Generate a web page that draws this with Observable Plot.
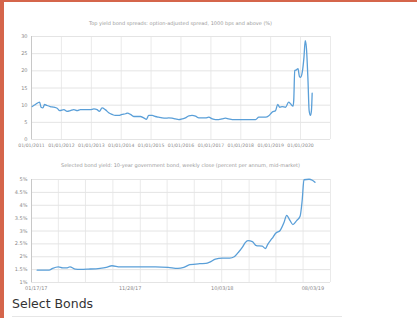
<!DOCTYPE html>
<html><head><meta charset="utf-8">
<script src="https://cdn.jsdelivr.net/npm/d3@7"></script>
<script src="https://cdn.jsdelivr.net/npm/@observablehq/plot@0.6"></script>
<style>
body{margin:0;background:#fff;width:417px;height:318px;overflow:hidden;position:relative;font-family:"DejaVu Sans",sans-serif}
.bl{position:absolute;left:0;top:0;width:4px;height:318px;background:#d5654b}
.bt{position:absolute;left:0;top:0;width:417px;height:2px;background:#d5654b}
.title{position:absolute;left:31px;width:299px;text-align:center;font-size:5px;color:#9a9a9a;white-space:nowrap}
.chart{position:absolute;left:0}
h3{position:absolute;left:12px;top:296px;margin:0;font-weight:normal;font-size:12.5px;color:#333}
.hr{position:absolute;left:12px;top:316px;width:330px;height:1px;background:#e6e6e6}
</style></head>
<body>
<div class="bl"></div><div class="bt"></div>
<div class="title" style="top:20px">Top yield bond spreads: option-adjusted spread, 1000 bps and above (%)</div>
<div id="c1" class="chart" style="top:30px"></div>
<div class="title" style="top:162px">Selected bond yield: 10-year government bond, weekly close (percent per annum, mid-market)</div>
<div id="c2" class="chart" style="top:172px"></div>
<h3>Select Bonds</h3>
<div class="hr"></div>
<script>
// Chart 1 data
const dates1 = ["2011-01-10","2011-02-18","2011-04-10","2011-04-28","2011-05-20","2011-06-10","2011-07-10","2011-08-18","2011-10-01","2011-11-10","2011-12-12","2012-02-01","2012-03-10","2012-04-20","2012-06-01","2012-07-12","2012-08-20","2012-10-01","2012-11-12","2012-12-20","2013-02-01","2013-03-12","2013-04-10","2013-05-12","2013-06-20","2013-08-01","2013-09-12","2013-10-20","2013-12-01","2014-01-12","2014-02-24","2014-03-20","2014-04-24","2014-06-03","2014-07-12","2014-08-24","2014-10-03","2014-11-06","2014-12-03","2015-01-15","2015-02-24","2015-04-03","2015-05-15","2015-06-24","2015-08-03","2015-09-15","2015-10-24","2015-12-06","2016-01-15","2016-02-24","2016-04-06","2016-05-15","2016-06-27","2016-08-06","2016-09-18","2016-10-27","2016-12-06","2017-01-18","2017-02-27","2017-04-06","2017-05-18","2017-06-27","2017-08-06","2017-09-18","2017-10-27","2018-02-27","2018-07-01","2018-08-09","2018-11-01","2018-12-09","2019-01-21","2019-03-01","2019-03-28","2019-04-22","2019-05-22","2019-07-01","2019-08-09","2019-09-01","2019-10-01","2019-10-10","2019-10-22","2019-11-12","2019-12-01","2019-12-18","2020-01-01","2020-01-22","2020-02-12","2020-02-27","2020-03-12","2020-04-01","2020-04-15","2020-05-01","2020-05-13","2020-05-22"];
const values1 = [9.6,10.2,10.9,9.4,9.2,10.2,9.9,9.6,9.4,9.1,8.4,8.7,8.2,8.4,8.7,8.4,8.7,8.7,8.7,8.7,8.9,8.7,8.2,9.2,8.7,7.8,7.3,7.0,7.0,7.3,7.5,7.7,7.3,6.7,6.7,6.7,6.3,5.9,7.0,7.0,6.7,6.5,6.3,6.2,6.3,6.2,6.0,5.8,6.0,6.3,6.9,7.0,6.8,6.3,6.3,6.3,6.5,6.0,5.8,5.8,6.0,6.2,6.0,5.8,5.8,5.8,5.8,6.5,6.5,6.9,8.0,8.4,10.2,9.4,9.6,9.4,10.9,10.4,9.7,11.4,20.1,20.3,20.6,18.4,18.1,19.6,24.0,28.8,26.9,17.2,8.4,7.0,8.4,13.5];
const xTicks1 = ["2011-01-01","2012-01-01","2013-01-01","2014-01-01","2015-01-01","2016-01-01","2017-01-01","2018-01-01","2019-01-01","2020-01-01"];
const xGrid1 = ["2011-01-01","2012-01-01","2013-01-01","2014-01-01","2015-01-01","2016-01-01","2017-01-01","2018-01-01","2019-01-01","2020-01-01","2021-01-01"];
const yTicks1 = [0,5,10,15,20,25,30];

// Chart 2 data
const dates2 = ["2017-01-20","2017-03-01","2017-03-13","2017-04-01","2017-04-16","2017-05-01","2017-05-10","2017-05-28","2017-06-13","2017-07-10","2017-08-19","2017-09-09","2017-09-28","2017-10-25","2018-01-01","2018-02-21","2018-04-04","2018-05-07","2018-05-27","2018-06-16","2018-07-19","2018-08-09","2018-08-22","2018-09-10","2018-10-03","2018-10-28","2018-11-12","2018-11-25","2018-12-09","2018-12-19","2018-12-28","2019-01-12","2019-01-25","2019-02-14","2019-02-25","2019-03-04","2019-03-19","2019-04-01","2019-04-15","2019-04-28","2019-05-07","2019-05-18","2019-05-28","2019-06-10","2019-06-21","2019-06-28","2019-07-04","2019-07-21","2019-08-01","2019-08-10"];
const values2 = [1.48,1.48,1.55,1.61,1.57,1.57,1.61,1.52,1.51,1.52,1.55,1.59,1.65,1.61,1.61,1.61,1.59,1.55,1.59,1.69,1.73,1.74,1.79,1.91,1.95,1.95,2.00,2.16,2.36,2.55,2.63,2.59,2.43,2.41,2.32,2.47,2.71,2.92,3.02,3.33,3.61,3.41,3.25,3.41,3.57,4.19,4.99,5.01,4.97,4.89];
const xTicks2 = ["2017-01-17","2017-11-28","2018-10-03","2019-08-03"];
const xGrid2 = ["2017-01-01","2017-04-01","2017-07-01","2017-10-01","2018-01-01","2018-04-01","2018-07-01","2018-10-01","2019-01-01","2019-04-01","2019-07-01","2019-10-01"];
const yTicks2 = [1,1.5,2,2.5,3,3.5,4,4.5,5];

const lineColor = "#5a9fd8";
const D = s => new Date(s);
const fmtLong = d3.utcFormat("%m/%d/%Y");
const fmtShort = d3.utcFormat("%m/%d/%y");

const data1 = dates1.map((d,i)=>({date:D(d), v:values1[i]}));
const data2 = dates2.map((d,i)=>({date:D(d), v:values2[i]}));

const c1 = Plot.plot({
  width:345, height:125, marginTop:6, marginBottom:16, marginLeft:31, marginRight:15,
  style:{background:"transparent", fontFamily:"DejaVu Sans, sans-serif"},
  x:{type:"utc", domain:[D(xGrid1[0]), D(xGrid1[xGrid1.length-1])]},
  y:{domain:[0,30]},
  marks:[
    Plot.gridX(xGrid1.map(D), {stroke:"#eaeaea", strokeOpacity:1}),
    Plot.gridY(yTicks1, {stroke:"#e4e4e4", strokeOpacity:1}),
    Plot.ruleX([D(xGrid1[0])], {stroke:"#c8c8c8"}),
    Plot.axisY(yTicks1, {tickSize:0, tickPadding:4, fontSize:5, fill:"#8a8a8a", label:null}),
    Plot.axisX(xTicks1.map(D), {tickSize:0, tickPadding:4, fontSize:4.6, fill:"#8a8a8a", label:null, tickFormat:fmtLong}),
    Plot.line(data1, {x:"date", y:"v", stroke:lineColor, strokeWidth:1.3, curve:"monotone-x"})
  ]
});
document.getElementById("c1").appendChild(c1);

const c2 = Plot.plot({
  width:345, height:125, marginTop:7, marginBottom:15, marginLeft:31, marginRight:15,
  style:{background:"transparent", fontFamily:"DejaVu Sans, sans-serif"},
  x:{type:"utc", domain:[D(xGrid2[0]), D(xGrid2[xGrid2.length-1])]},
  y:{domain:[1,5]},
  marks:[
    Plot.gridX(xGrid2.map(D), {stroke:"#eaeaea", strokeOpacity:1}),
    Plot.gridY(yTicks2, {stroke:"#e4e4e4", strokeOpacity:1}),
    Plot.ruleX([D(xGrid2[0])], {stroke:"#c8c8c8"}),
    Plot.axisY(yTicks2, {tickSize:0, tickPadding:4, fontSize:5, fill:"#8a8a8a", label:null, tickFormat:d=>d+"%"}),
    Plot.axisX(xTicks2.map(D), {tickSize:0, tickPadding:4, fontSize:5, fill:"#8a8a8a", label:null, tickFormat:fmtShort}),
    Plot.line(data2, {x:"date", y:"v", stroke:lineColor, strokeWidth:1.3, curve:"monotone-x"})
  ]
});
document.getElementById("c2").appendChild(c2);
</script>
</body></html>
